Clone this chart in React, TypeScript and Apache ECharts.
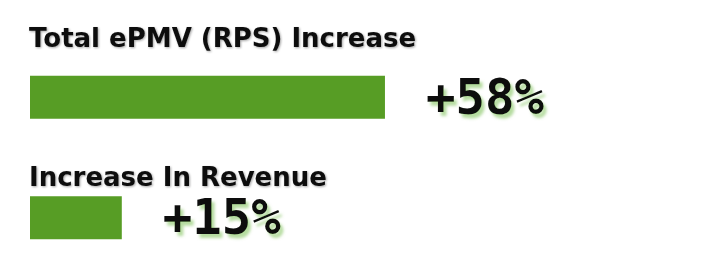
import React, { useEffect, useRef } from "react";
import * as echarts from "echarts";

const categories = ["Total ePMV (RPS) Increase", "Increase In Revenue"];
const increases = [58, 15];
const valueLabels = ["+58%", "+15%"];

const BAR_COLOR = "#579d25";

export default function App() {
  const ref = useRef<HTMLDivElement>(null);
  useEffect(() => {
    if (!ref.current) return;
    const chart = echarts.init(ref.current, undefined, { renderer: "svg" });
    const titleStyle = {
      fontFamily: "'DejaVu Sans', sans-serif",
      fontWeight: 700,
      fontSize: 26,
      color: "#111111",
      textShadowColor: "rgba(0,0,0,0.35)",
      textShadowBlur: 2,
      textShadowOffsetX: 1,
      textShadowOffsetY: 1,
    };
    chart.setOption({
      animation: false,
      backgroundColor: "#ffffff",
      title: [
        { text: categories[0], left: 29, top: 25, padding: 0, textStyle: titleStyle },
        { text: categories[1], left: 29, top: 164, padding: 0, textStyle: titleStyle },
      ],
      grid: { left: 30, width: 612, top: 37, height: 247 },
      xAxis: { type: "value", min: 0, max: 100, show: false },
      yAxis: {
        type: "category",
        data: categories,
        inverse: true,
        show: false,
      },
      series: [
        {
          type: "bar",
          data: increases,
          barWidth: 43,
          itemStyle: { color: BAR_COLOR },
          label: {
            show: true,
            position: "right",
            distance: 41,
            formatter: (p: any) => valueLabels[p.dataIndex],
            fontFamily: "'DejaVu Sans Mono', monospace",
            fontWeight: "bold",
            fontSize: 49,
            color: "#111111",
            textShadowColor: "rgba(120,190,80,0.55)",
            textShadowBlur: 3,
            textShadowOffsetX: 3,
            textShadowOffsetY: 4,
          },
        },
      ],
    });
    return () => chart.dispose();
  }, []);
  return (
    <div
      ref={ref}
      style={{ position: "fixed", left: 0, top: 0, width: 719, height: 278 }}
    />
  );
}
